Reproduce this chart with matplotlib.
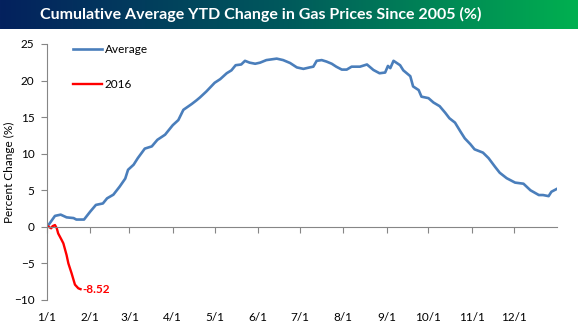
import numpy as np
import matplotlib
matplotlib.use("Agg")
import matplotlib.pyplot as plt
from matplotlib.colors import LinearSegmentedColormap

# ---- data ----
avg_day = [0, 2, 5.7, 9.8, 14, 19, 21, 26.5, 31, 35, 40, 43, 47.5, 52, 56, 58, 62, 65, 70, 75,
           79, 84.5, 90, 94, 97.6, 103.6, 107, 109.5, 114, 120, 124, 128.6, 132, 135, 139, 141.7,
           145, 149, 152.5, 157, 164.4, 169, 174, 178.8, 183.5, 188, 190.6, 193, 196.6, 200,
           203.8, 207, 211, 214.5, 218, 224, 229, 233.6, 238, 242, 244, 245.7, 248, 252.7, 255,
           260, 262, 266, 268, 273, 276.6, 281, 285, 288, 292, 296, 299, 303, 306, 312, 316,
           320.7, 324, 329, 335, 341, 346, 352, 355, 359, 361, 365]
avg_val = [0, 0.5, 1.5, 1.67, 1.3, 1.2, 1.0, 1.0, 2.1, 3.0, 3.2, 3.9, 4.4, 5.5, 6.6, 7.8, 8.5, 9.4, 10.7, 11.0,
           11.9, 12.6, 13.9, 14.6, 16.0, 16.8, 17.3, 17.7, 18.5, 19.7, 20.2, 21.0, 21.4, 22.1, 22.2, 22.7,
           22.45, 22.3, 22.45, 22.8, 23.0, 22.8, 22.4, 21.8, 21.6, 21.8, 21.9, 22.7, 22.8, 22.6,
           22.3, 21.9, 21.5, 21.5, 21.9, 21.9, 22.2, 21.45, 21.0, 21.1, 22.0, 21.7, 22.7, 22.1, 21.4,
           20.6, 19.2, 18.7, 17.8, 17.6, 17.0, 16.5, 15.6, 14.85, 14.25, 13.0, 12.1, 11.3, 10.6, 10.15, 9.4,
           8.2, 7.4, 6.65, 6.05, 5.9, 5.0, 4.35, 4.35, 4.2, 4.8, 5.2]

y16_day = [0, 1.7, 3, 4, 5.7, 7, 8, 10.5, 11.7, 14, 15.3, 17.6, 20, 22.4, 24]
y16_val = [0.15, -0.05, -0.2, 0.1, 0.25, -0.2, -0.9, -1.8, -2.25, -3.85, -5.0, -6.35, -7.9, -8.4, -8.52]

month_days = [0, 31, 59, 90, 120, 151, 181, 212, 243, 273, 304, 334]
month_labels = ["1/1", "2/1", "3/1", "4/1", "5/1", "6/1", "7/1", "8/1", "9/1", "10/1", "11/1", "12/1"]
y_ticks = [-10, -5, 0, 5, 10, 15, 20, 25]

title = "Cumulative Average YTD Change in Gas Prices Since 2005 (%)"
last_label = "-8.52"

# ---- figure ----
plt.rcParams['font.family'] = ['Lato', 'DejaVu Sans']
W, H = 578, 334
fig = plt.figure(figsize=(W / 100, H / 100), dpi=100)

# title banner
bax = fig.add_axes([0, 1 - 29 / H, 1, 29 / H])
cmap = LinearSegmentedColormap.from_list("ban", ["#04215e", "#005a5c", "#00b050"])
bax.imshow(np.linspace(0, 1, 256)[None, :], aspect='auto', cmap=cmap, extent=[0, 1, 0, 1])
bax.set_axis_off()
bax.text(261 / W, 0.5, title, color='white', fontweight='bold', fontsize=11.5,
         ha='center', va='center', transform=bax.transAxes)

ax = fig.add_axes([47 / W, 34 / H, 510 / W, 256 / H])
blue = "#4a7ebb"
ax.plot(avg_day, avg_val, color=blue, lw=1.9, label="Average", solid_joinstyle='round')
ax.plot(y16_day, y16_val, color="#ff0000", lw=1.7, label="2016")
ax.text(y16_day[-1] + 1.5, y16_val[-1], last_label, color="#ff0000", fontweight='bold',
        fontsize=8.5, va='center', ha='left')

ax.set_xlim(0, 365)
ax.set_ylim(-10, 25)
ax.set_yticks(y_ticks)
ax.set_xticks(month_days)
ax.set_xticklabels(month_labels)

grey = "#868686"
for s in ['top', 'right']:
    ax.spines[s].set_visible(False)
ax.spines['bottom'].set_position(('data', 0))
ax.spines['left'].set_color(grey)
ax.spines['bottom'].set_color(grey)
ax.tick_params(axis='y', direction='out', length=4, color=grey, labelsize=8.5, pad=5)
ax.tick_params(axis='x', direction='out', length=4, color=grey, labelsize=8.5, pad=57)
ax.set_ylabel("Percent Change (%)", fontsize=8.5)
ax.yaxis.set_label_coords(-0.063, 0.5)

leg = ax.legend(loc='upper left', bbox_to_anchor=(0.03, 1.04), frameon=False, fontsize=8.5,
                handlelength=2.5, handletextpad=0.2, labelspacing=2.0)

fig.savefig("out.png", dpi=100)
